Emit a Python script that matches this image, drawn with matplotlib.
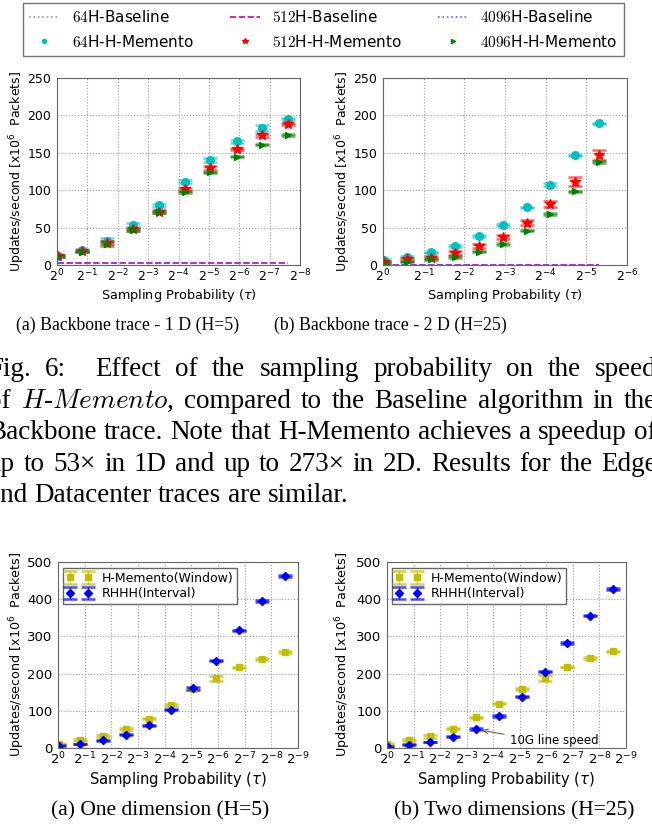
import matplotlib
matplotlib.use('Agg')
import matplotlib.pyplot as plt
from matplotlib.lines import Line2D
from matplotlib.font_manager import FontProperties

W, H = 652, 825
plt.rcParams['mathtext.fontset'] = 'dejavusans'

# ---- Fig. 6: Backbone trace (x = position on the 2^-k axis) ----
x_1d = [0.03, 0.82, 1.64, 2.50, 3.36, 4.21, 5.03, 5.92, 6.74, 7.60]
mem64_1d = [12, 20, 32.5, 53.5, 80, 111.5, 140, 165.5, 182.5, 195.5]
mem512_1d = [12, 19, 30, 47.5, 71.5, 101, 130, 155, 173.5, 188.5]
mem4096_1d = [12, 18, 28.5, 47, 70.5, 98, 124, 145, 161, 174]
err64_1d = [1, 1.5, 3, 2.5, 2, 1.5, 2.5, 2, 4, 1.5]
err512_1d = [1, 1, 2, 1.5, 2, 2, 2.5, 1.5, 2, 1.5]
err4096_1d = [1, 1, 3, 1.5, 1.5, 1.5, 1, 1, 1, 1]
base64_1d = [2.9, 2.9, 2.8, 2.9, 2.9, 2.8, 2.9, 2.9, 2.8, 2.9]
base512_1d = [2.7, 2.7, 2.6, 2.7, 2.7, 2.7, 2.6, 2.7, 2.7, 2.7]
base4096_1d = [2.5, 2.5, 2.5, 2.4, 2.5, 2.5, 2.5, 2.4, 2.5, 2.5]

x_2d = [0.02, 0.59, 1.19, 1.77, 2.37, 2.94, 3.53, 4.11, 4.72, 5.32]
mem64_2d = [7, 11, 17, 25.5, 38.5, 53.5, 77, 107.5, 146.5, 189.5]
mem512_2d = [4, 7.5, 10, 16.5, 25, 38, 56.5, 81, 111, 147.5]
mem4096_2d = [2.5, 4.5, 8, 11, 18, 28, 46, 68.5, 98.5, 137.5]
err64_2d = [1, 1, 1, 1, 1, 1, 1, 1.5, 1, 1]
err512_2d = [1.5, 1.5, 2, 2.5, 2.5, 2.7, 3.6, 4, 6, 6.7]
err4096_2d = [1, 1, 1, 1, 1, 1, 1, 1, 1, 1.5]
base64_2d = [0.5, 0.5, 0.5, 0.5, 0.5, 0.5, 0.5, 0.5, 0.5, 0.5]
base512_2d = [0.4, 0.4, 0.4, 0.4, 0.4, 0.4, 0.4, 0.4, 0.4, 0.4]
base4096_2d = [0.3, 0.3, 0.3, 0.3, 0.3, 0.3, 0.3, 0.3, 0.3, 0.3]

# ---- Fig. 7: window vs interval ----
x_w1 = [0.04, 0.81, 1.69, 2.54, 3.40, 4.25, 5.06, 5.94, 6.79, 7.65, 8.53]
win_1d = [11, 21, 31.5, 50, 79, 116, 158, 187, 217, 239, 258]
win_err_1d = [2, 2, 3, 2.5, 2, 2, 2, 7, 1.5, 2, 1.5]
rhhh_1d = [6, 11, 21, 36, 61, 103, 160, 235, 316, 395, 463]
rhhh_err_1d = [1, 1, 1, 1.5, 1.5, 2, 3, 2, 2, 2, 2]

x_w2 = [0.0, 0.81, 1.63, 2.50, 3.36, 4.22, 5.08, 5.95, 6.79, 7.64, 8.50]
win_2d = [11, 21, 31.5, 52, 82, 119, 158.5, 188, 218, 242, 260]
win_err_2d = [2, 2, 4, 2, 1.5, 1.5, 1.5, 7, 1, 1.5, 1.5]
rhhh_2d = [4.5, 9, 16, 30, 51, 86, 138, 205, 282, 356, 427]
rhhh_err_2d = [1, 1, 1, 1.5, 1.5, 2, 2, 2, 2, 2, 2]

ylab = r'Updates/second [x10$^{6}$  Packets]'
xlab = r'Sampling Probability ($\tau$)'

fig = plt.figure(figsize=(W / 100, H / 100), dpi=100)


def px_axes(x0, y0, x1, y1):
    return fig.add_axes([x0 / W, 1 - y1 / H, (x1 - x0) / W, (y1 - y0) / H])


def style(ax, nx, ymax, ystep, fs_tick, fs_lab, ylx, xly):
    ax.set_xlim(0, nx)
    ax.set_ylim(0, ymax)
    ax.set_xticks(range(nx + 1))
    ax.set_xticklabels([r'$2^{%d}$' % -k for k in range(nx + 1)], fontsize=fs_tick)
    ax.set_yticks(range(0, ymax + 1, ystep))
    ax.tick_params(axis='y', labelsize=fs_tick, length=0, pad=4)
    ax.tick_params(axis='x', length=0, pad=2)
    ax.grid(True, color='0.6', linestyle=':', linewidth=0.8)
    ax.set_axisbelow(True)
    for s in ax.spines.values():
        s.set_color('0.4')
    ax.set_ylabel(ylab, fontsize=fs_lab[0])
    ax.set_xlabel(xlab, fontsize=fs_lab[1])
    ax.yaxis.set_label_coords(ylx, 0.5)
    ax.xaxis.set_label_coords(0.5, xly)


def mem_plot(ax, x, ys, errs, bases):
    for b, ls, c in zip(bases, [':', '--', ':'], ['0.6', 'm', '#6060ff']):
        ax.plot(x, b, linestyle=ls, color=c, linewidth=1.2)
    for y, e, c, m, ms in zip(ys, errs, ['c', 'r', 'g'], ['o', '*', '>'], [5.5, 7, 5]):
        ax.errorbar(x, y, yerr=e, fmt=m, color=c, mec=c, ms=ms, capsize=5, capthick=1.8,
                    elinewidth=1, ecolor=matplotlib.colors.to_rgba(c, 0.6))


ax1 = px_axes(57, 78, 300, 265)
mem_plot(ax1, x_1d, [mem64_1d, mem512_1d, mem4096_1d], [err64_1d, err512_1d, err4096_1d],
         [base64_1d, base512_1d, base4096_1d])
style(ax1, 8, 250, 50, 9, (9, 9.3), -0.123, -0.118)

ax2 = px_axes(383, 78, 627, 265)
mem_plot(ax2, x_2d, [mem64_2d, mem512_2d, mem4096_2d], [err64_2d, err512_2d, err4096_2d],
         [base64_2d, base512_2d, base4096_2d])
style(ax2, 6, 250, 50, 9, (9, 9.3), -0.123, -0.118)


def win_plot(ax, x, w, we, r, re):
    ax.errorbar(x, w, yerr=we, fmt='s', color='y', mec='y', ms=4, capsize=5, capthick=1.8,
                elinewidth=1, ecolor=matplotlib.colors.to_rgba('y', 0.7), label='H-Memento(Window)')
    ax.errorbar(x, r, yerr=re, fmt='D', color='b', mec='b', ms=4, capsize=5, capthick=1.8,
                elinewidth=1, ecolor=matplotlib.colors.to_rgba('b', 0.7), label='RHHH(Interval)')
    leg = ax.legend(loc='upper left', bbox_to_anchor=(0.02, 0.968), borderaxespad=0,
                    numpoints=2, fontsize=9, labelspacing=0.2, borderpad=0.3,
                    fancybox=False, framealpha=1)
    leg.get_frame().set_edgecolor('0.4')


ax3 = px_axes(58, 562, 298, 748)
win_plot(ax3, x_w1, win_1d, win_err_1d, rhhh_1d, rhhh_err_1d)
style(ax3, 9, 500, 100, 9.5, (9.2, 10.6), -0.129, -0.12)

ax4 = px_axes(387, 562, 626, 748)
win_plot(ax4, x_w2, win_2d, win_err_2d, rhhh_2d, rhhh_err_2d)
style(ax4, 9, 500, 100, 9.5, (9.2, 10.6), -0.142, -0.12)
ax4.annotate('10G line speed', xy=(x_w2[4] + 0.12, rhhh_2d[4] - 2), xytext=(4.62, 20),
             va='center', fontsize=8.5,
             arrowprops=dict(arrowstyle='->', color='0.4', lw=0.8, relpos=(0, 0.9)))

# ---- shared legend on top ----
handles = [
    Line2D([], [], linestyle=':', color='0.6', lw=1.2),
    Line2D([], [], linestyle='none', marker='o', color='c', ms=3),
    Line2D([], [], linestyle='--', color='m', lw=1.2),
    Line2D([], [], linestyle='none', marker='*', color='r', ms=4),
    Line2D([], [], linestyle=':', color='#6060ff', lw=1.2),
    Line2D([], [], linestyle='none', marker='>', color='g', ms=3),
]
labels = [r'$64$H-Baseline', r'$64$H-H-Memento', r'$512$H-Baseline', r'$512$H-H-Memento',
          r'$4096$H-Baseline', r'$4096$H-H-Memento']
leg = fig.legend(handles, labels, loc='upper left', ncol=3, mode='expand',
                 bbox_to_anchor=(23 / W, 1 - 59 / H, 601 / W, 56 / H), borderaxespad=0,
                 prop=FontProperties(size=11, math_fontfamily='cm'), numpoints=1,
                 labelspacing=0.55, fancybox=False, framealpha=1)
leg.get_frame().set_edgecolor('0.45')

# ---- captions and paragraph ----
serif = 'Liberation Serif'
fig.text(128 / W, 1 - 325 / H, '(a) Backbone trace - 1 D (H=5)', family=serif, fontsize=12.8,
         ha='center', va='center')
fig.text(390 / W, 1 - 325 / H, '(b) Backbone trace - 2 D (H=25)', family=serif, fontsize=12.8,
         ha='center', va='center')
fig.text(160 / W, 1 - 811 / H, '(a) One dimension (H=5)', family=serif, fontsize=15.5,
         ha='center', va='center')
fig.text(514 / W, 1 - 811 / H, '(b) Two dimensions (H=25)', family=serif, fontsize=15.5,
         ha='center', va='center')

para = [
    ['Fig.', '6:', '', 'Effect', 'of', 'the', 'sampling', 'probability', 'on', 'the', 'speed'],
    ['of', r'$H$-$Memento$,', 'compared', 'to', 'the', 'Baseline', 'algorithm', 'in', 'the'],
    ['Backbone', 'trace.', 'Note', 'that', 'H-Memento', 'achieves', 'a', 'speedup', 'of'],
    ['up', 'to', '53\u00d7', 'in', '1D', 'and', 'up', 'to', '273\u00d7', 'in', '2D.', 'Results',
     'for', 'the', 'Edge'],
    ['and', 'Datacenter', 'traces', 'are', 'similar.'],
]
baselines = [376, 408, 439, 471, 502]
left, right, psize = -12, 657, 19.5
renderer = fig.canvas.get_renderer()
for i, (words, yb) in enumerate(zip(para, baselines)):
    texts = [fig.text(0, 1 - yb / H, w, family=serif, fontsize=psize, va='baseline',
                      math_fontfamily='cm') for w in words]
    widths = [t.get_window_extent(renderer).width if w else 0 for t, w in zip(texts, words)]
    if i < len(para) - 1:
        gap = (right - left - sum(widths)) / (len(words) - 1)
    else:
        gap = 0.25 * psize * 100 / 72
    xpos = left
    for t, wd in zip(texts, widths):
        t.set_x(xpos / W)
        xpos += wd + gap

fig.savefig('out.png', dpi=100)
